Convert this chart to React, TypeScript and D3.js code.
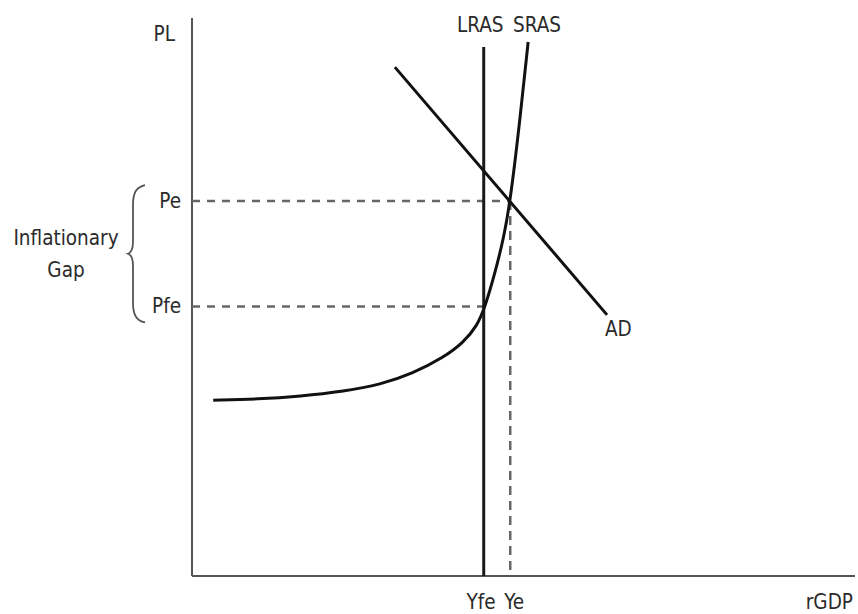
import React from "react";
import * as d3 from "d3";

const W = 858;
const H = 614;

// Levels (data units: 0-100 on both axes)
const LRAS_X = 44.0;
const LRAS_TOP = 94.8;
const YE_X = 48.0;
const PE = 67.2;
const PFE = 48.3;

const adPoints: [number, number][] = [
  [30.6, 91.2],
  [62.6, 46.8],
];

const srasX = [3.2, 10.0, 16.3, 23.0, 28.4, 33.3, 38.0, 40.9, 43.0, 44.2, 45.7, 47.0, 48.0, 49.3, 50.7];
const srasY = [31.5, 31.7, 32.2, 33.1, 34.3, 36.3, 39.2, 41.8, 44.8, 48.2, 54.3, 60.5, 67.2, 80.0, 95.7];

const xLabels = [
  { text: "Yfe", x: LRAS_X, anchor: "end", dx: 12 },
  { text: "Ye", x: YE_X, anchor: "start", dx: -6 },
];

const FONT = "'DejaVu Sans Condensed', 'DejaVu Sans', sans-serif";

export default function App() {
  const x = d3.scaleLinear().domain([0, 100]).range([192, 855]);
  const y = d3.scaleLinear().domain([0, 100]).range([576, 18]);

  const line = d3
    .line<[number, number]>()
    .x((d) => x(d[0]))
    .y((d) => y(d[1]));
  const curve = d3
    .line<[number, number]>()
    .x((d) => x(d[0]))
    .y((d) => y(d[1]))
    .curve(d3.curveBasis);

  const sras: [number, number][] = srasX.map((v, i) => [v, srasY[i]]);

  const yPe = y(PE);
  const yPfe = y(PFE);
  const braceTop = yPe - 16;
  const braceBot = yPfe + 16;
  const braceMid = (braceTop + braceBot) / 2;
  const bx = 145;
  const brace = `M ${bx} ${braceTop} C ${bx - 9} ${braceTop + 2} ${bx - 12} ${braceTop + 8} ${bx - 12} ${braceTop + 20}
    L ${bx - 12} ${braceMid - 12} C ${bx - 12} ${braceMid - 4} ${bx - 14} ${braceMid - 1} ${bx - 17} ${braceMid}
    C ${bx - 14} ${braceMid + 1} ${bx - 12} ${braceMid + 4} ${bx - 12} ${braceMid + 12}
    L ${bx - 12} ${braceBot - 20} C ${bx - 12} ${braceBot - 8} ${bx - 9} ${braceBot - 2} ${bx} ${braceBot}`;

  const textStyle = {
    fontFamily: FONT,
    fontStretch: "condensed" as const,
    fontSize: 20.5,
    fill: "#2b2b2b",
  };

  return (
    <svg
      width={W}
      height={H}
      style={{ position: "absolute", left: 0, top: 0, background: "#fff" }}
    >
      {/* axes */}
      <line x1={x(0)} y1={y(100)} x2={x(0)} y2={y(0)} stroke="#555" strokeWidth={2} />
      <line x1={x(0)} y1={y(0)} x2={x(100)} y2={y(0)} stroke="#555" strokeWidth={2} />

      {/* dashed guides */}
      <line x1={x(0)} y1={yPe} x2={x(YE_X)} y2={yPe} stroke="#666" strokeWidth={2.5} strokeDasharray="8,7" />
      <line x1={x(0)} y1={yPfe} x2={x(LRAS_X)} y2={yPfe} stroke="#666" strokeWidth={2.5} strokeDasharray="8,7" />
      <line x1={x(YE_X)} y1={yPe} x2={x(YE_X)} y2={y(0)} stroke="#666" strokeWidth={2.5} strokeDasharray="9,6" />

      {/* LRAS */}
      <line x1={x(LRAS_X)} y1={y(LRAS_TOP)} x2={x(LRAS_X)} y2={y(0)} stroke="#1a1a1a" strokeWidth={3} />

      {/* AD */}
      <path d={line(adPoints) || ""} fill="none" stroke="#111" strokeWidth={3} />

      {/* SRAS */}
      <path d={curve(sras) || ""} fill="none" stroke="#111" strokeWidth={3} />

      {/* brace */}
      <path d={brace} fill="none" stroke="#555" strokeWidth={1.8} />

      {/* labels */}
      <text {...textStyle} x={175} y={41} textAnchor="end">PL</text>
      <text {...textStyle} x={181} y={yPe + 7} textAnchor="end">Pe</text>
      <text {...textStyle} x={181} y={yPfe + 7} textAnchor="end">Pfe</text>
      <text {...textStyle} x={66} y={245} textAnchor="middle">Inflationary</text>
      <text {...textStyle} x={66} y={277} textAnchor="middle">Gap</text>
      <text {...textStyle} x={457} y={32}>LRAS</text>
      <text {...textStyle} x={513} y={32}>SRAS</text>
      <text {...textStyle} x={605} y={336}>AD</text>
      {xLabels.map((l) => (
        <text key={l.text} {...textStyle} x={x(l.x) + l.dx} y={609} textAnchor={l.anchor}>
          {l.text}
        </text>
      ))}
      <text {...textStyle} x={853} y={609} textAnchor="end">rGDP</text>
    </svg>
  );
}
